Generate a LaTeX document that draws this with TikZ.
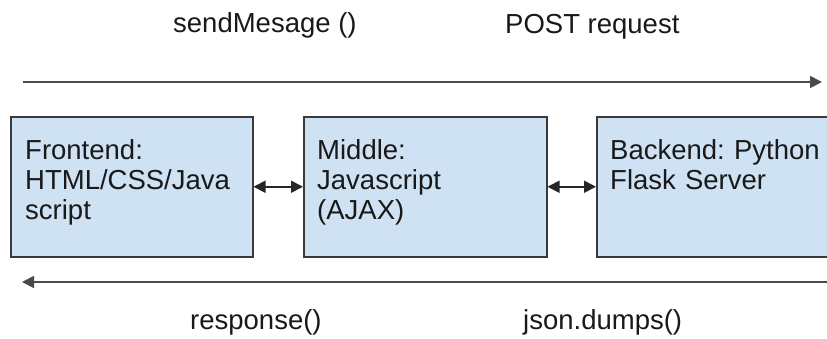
\documentclass[tikz,border=0pt]{standalone}
\usepackage{fontspec}
\setmainfont{Liberation Sans}
\usetikzlibrary{arrows.meta}
\frenchspacing

\definecolor{boxfill}{HTML}{CFE2F3}
\definecolor{boxline}{HTML}{3A3A3A}
\definecolor{flowline}{HTML}{4A4A4A}

\tikzset{
  tier/.style={draw=boxline, line width=1.5pt, fill=boxfill, rectangle,
    minimum height=140pt, inner sep=0pt, anchor=north west},
  tiertext/.style={anchor=base west, align=left, text width=240pt, inner sep=0pt,
    font=\fontsize{27.5}{30}\selectfont, text=black!90},
  caption/.style={anchor=base west, inner sep=0pt,
    font=\fontsize{27.5}{30}\selectfont, text=black!90},
  flow/.style={draw=flowline, line width=1.8pt,
    -{Triangle[length=12pt,width=12pt]}},
  link/.style={draw=black!85, line width=1.8pt,
    {Triangle[length=12pt,width=12pt]}-{Triangle[length=12pt,width=12pt]}}
}

\begin{document}
\begin{tikzpicture}[x=1pt, y=-1pt]
  \useasboundingbox (0,0) rectangle (827,338);
  \clip (0,0) rectangle (827,338);

  % three tiers
  \node[tier, minimum width=242pt] (front) at (10,116) {};
  \node[tier, minimum width=243pt] (mid) at (303,116) {};
  \node[tier, minimum width=260pt] (back) at (596,116) {};

  \node[tiertext] (fronttext) at (25,159) {Frontend:\\HTML/CSS/Java\\script};
  \node[tiertext] (midtext) at (317,159) {Middle:\\Javascript\\(AJAX)};
  \node[tiertext] (backtext) at (610,159) {Backend: Python\\Flask Server};

  % links between neighbouring tiers
  \draw[link] (front.east) -- (mid.west);
  \draw[link] (mid.east) -- (back.west);

  % request and response flows
  \coordinate (reqstart) at (23,82);
  \coordinate (reqend) at (822,82);
  \coordinate (resstart) at (830,282);
  \coordinate (resend) at (22,282);
  \draw[flow] (reqstart) -- (reqend);
  \draw[flow] (resstart) -- (resend);

  % flow captions
  \node[caption] (send) at (173,32) {sendMesage ()};
  \node[caption] (post) at (505,33) {POST request};
  \node[caption] (resp) at (190,329) {response()};
  \node[caption] (dumps) at (523,329) {json.dumps()};
\end{tikzpicture}
\end{document}
